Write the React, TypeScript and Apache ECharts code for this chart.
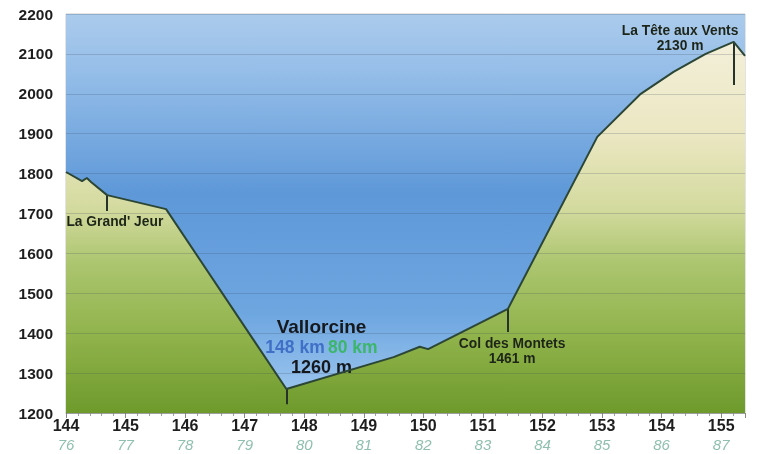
import React, { useEffect, useRef } from "react";
import * as echarts from "echarts";

// Profile: distance (km) and altitude (m)
const profileKm = [144.0, 144.27, 144.35, 144.42, 144.69, 145.68, 147.7, 149.5, 149.94, 150.08, 151.42, 152.92, 153.65, 154.2, 154.74, 155.21, 155.4];
const profileAlt = [1804, 1781, 1789, 1779, 1746, 1711, 1260, 1340, 1366, 1360, 1461, 1892, 2000, 2055, 2100, 2130, 2095];

// Tick labels
const kmLabels = ["144", "145", "146", "147", "148", "149", "150", "151", "152", "153", "154", "155"];
const kmLabels2 = ["76", "77", "78", "79", "80", "81", "82", "83", "84", "85", "86", "87"];
const altTicks = [1200, 1300, 1400, 1500, 1600, 1700, 1800, 1900, 2000, 2100, 2200];

// Places
const placeNames = ["La Grand' Jeur", "Vallorcine", "Col des Montets", "La Tête aux Vents"];
const placeKm = [144.69, 147.7, 151.42, 155.21];
const placeAlt = [1746, 1260, 1461, 2130];
const placeTickEnd = [1706, 1222, 1403, 2022];

const X_MIN = 144;
const X_MAX = 155.4;
const FONT = "'Liberation Sans', Arial, sans-serif";

export default function App() {
  const ref = useRef<HTMLDivElement>(null);
  useEffect(() => {
    if (!ref.current) return;
    const chart = echarts.init(ref.current, undefined, { renderer: "svg" });
    const profile = profileKm.map((k, i) => [k, profileAlt[i]]);
    const sky = [[X_MIN, altTicks[altTicks.length - 1]], [X_MAX, altTicks[altTicks.length - 1]]];

    const labelPos: Record<string, [number, number]> = {
      "La Grand' Jeur": [144.82, 1679],
      "Vallorcine": [148.29, 1366],
      "Col des Montets": [151.49, 1355],
      "La Tête aux Vents": [154.31, 2140],
    };

    const markLines = placeNames.map((n, i) => [
      { coord: [placeKm[i], placeAlt[i]] },
      { coord: [placeKm[i], placeTickEnd[i]] },
    ]);

    const markPoints = placeNames.map((n, i) => {
      let text = "";
      if (i === 0) text = `{s|${n}}`;
      else if (i === 1)
        text = `{v|${n}}\n{blue|${placeKm[i].toFixed(0)} km} {green|${kmLabels2[Math.round(placeKm[i]) - 144]} km}\n{v2|${placeAlt[i]} m}`;
      else text = `{s|${n}}\n{s|${placeAlt[i]} m}`;
      return {
        coord: labelPos[n],
        symbol: "circle",
        symbolSize: 0,
        label: {
          show: true,
          position: "inside",
          formatter: text,
          align: "center",
          verticalAlign: "middle",
          rich: {
            s: { fontFamily: FONT, fontWeight: "bold", fontSize: 13.8, color: "#1d2418", lineHeight: 15 },
            v: { fontFamily: FONT, fontWeight: "bold", fontSize: 19, color: "#15181c", lineHeight: 20 },
            v2: { fontFamily: FONT, fontWeight: "bold", fontSize: 18, color: "#15181c", lineHeight: 20 },
            blue: { fontFamily: FONT, fontWeight: "bold", fontSize: 17.5, color: "#3f6fc7", lineHeight: 20 },
            green: { fontFamily: FONT, fontWeight: "bold", fontSize: 17.5, color: "#3cb66a", lineHeight: 20 },
          },
        },
      };
    });

    chart.setOption({
      animation: false,
      grid: {
        left: 66,
        right: 18,
        top: 14,
        bottom: 41,
        show: true,
        borderColor: "#c8c8c8",
        borderWidth: 1,
        backgroundColor: "transparent",
      },
      xAxis: {
        type: "value",
        min: X_MIN,
        max: X_MAX,
        interval: 1,
        splitLine: { show: false },
        axisLine: { show: true, lineStyle: { color: "#b8b8b0", width: 1 } },
        axisTick: { show: true, length: 5, lineStyle: { color: "#8a8a80" } },
        minorTick: { show: true, splitNumber: 5, length: 3, lineStyle: { color: "#a0a098" } },
        axisLabel: {
          margin: 3,
          showMaxLabel: false,
          formatter: (v: number) => {
            const idx = Math.round(v - X_MIN);
            if (Math.abs(v - Math.round(v)) > 1e-6 || idx < 0 || idx >= kmLabels.length) return "";
            return `{a|${kmLabels[idx]}}\n{b|${kmLabels2[idx]}}`;
          },
          rich: {
            a: { fontFamily: FONT, fontWeight: "bold", fontSize: 16, color: "#1e1e1e", lineHeight: 19 },
            b: { fontFamily: FONT, fontStyle: "italic", fontSize: 15, color: "#8fbfae", lineHeight: 19 },
          },
        },
      },
      yAxis: {
        type: "value",
        min: 1200,
        max: 2200,
        interval: 100,
        z: 3,
        axisLine: { show: false },
        axisTick: { show: false },
        axisLabel: {
          margin: 13,
          fontFamily: FONT,
          fontWeight: "bold",
          fontSize: 15.5,
          color: "#1e1e1e",
          formatter: (v: number) => (altTicks.includes(v) ? String(v) : ""),
        },
        splitLine: { show: true, lineStyle: { color: "rgba(60,75,95,0.22)", width: 1 } },
      },
      series: [
        {
          name: "sky",
          type: "line",
          z: 1,
          data: sky,
          symbol: "none",
          lineStyle: { width: 0 },
          areaStyle: {
            origin: "start",
            opacity: 1,
            color: new echarts.graphic.LinearGradient(0, 0, 0, 1, [
              { offset: 0, color: "#abcbec" },
              { offset: 0.15, color: "#94bde8" },
              { offset: 0.45, color: "#5e98d8" },
              { offset: 0.75, color: "#6ea6e0" },
              { offset: 1, color: "#a6cdf2" },
            ]),
          },
          silent: true,
        },
        {
          name: "terrain",
          type: "line",
          z: 2,
          data: profile,
          symbol: "none",
          lineStyle: { width: 0 },
          areaStyle: {
            origin: "start",
            opacity: 1,
            color: new echarts.graphic.LinearGradient(0, 0, 0, 1, [
              { offset: 0, color: "#f3efd9" },
              { offset: 0.25, color: "#ebe7c2" },
              { offset: 0.45, color: "#d3da9e" },
              { offset: 0.6, color: "#abc56e" },
              { offset: 0.8, color: "#8fb24a" },
              { offset: 1, color: "#6e9a2c" },
            ]),
          },
          silent: true,
        },
        {
          name: "ridge",
          type: "line",
          z: 5,
          data: profile,
          symbol: "none",
          lineStyle: { width: 2, color: "#2c4636" },
          markLine: {
            silent: true,
            symbol: ["none", "none"],
            label: { show: false },
            lineStyle: { type: "solid", width: 2, color: "#26332a" },
            data: markLines,
          },
          markPoint: {
            silent: true,
            data: markPoints,
          },
        },
      ],
    });
    return () => chart.dispose();
  }, []);
  return <div ref={ref} style={{ width: 763, height: 454, position: "fixed", left: 0, top: 0 }} />;
}
